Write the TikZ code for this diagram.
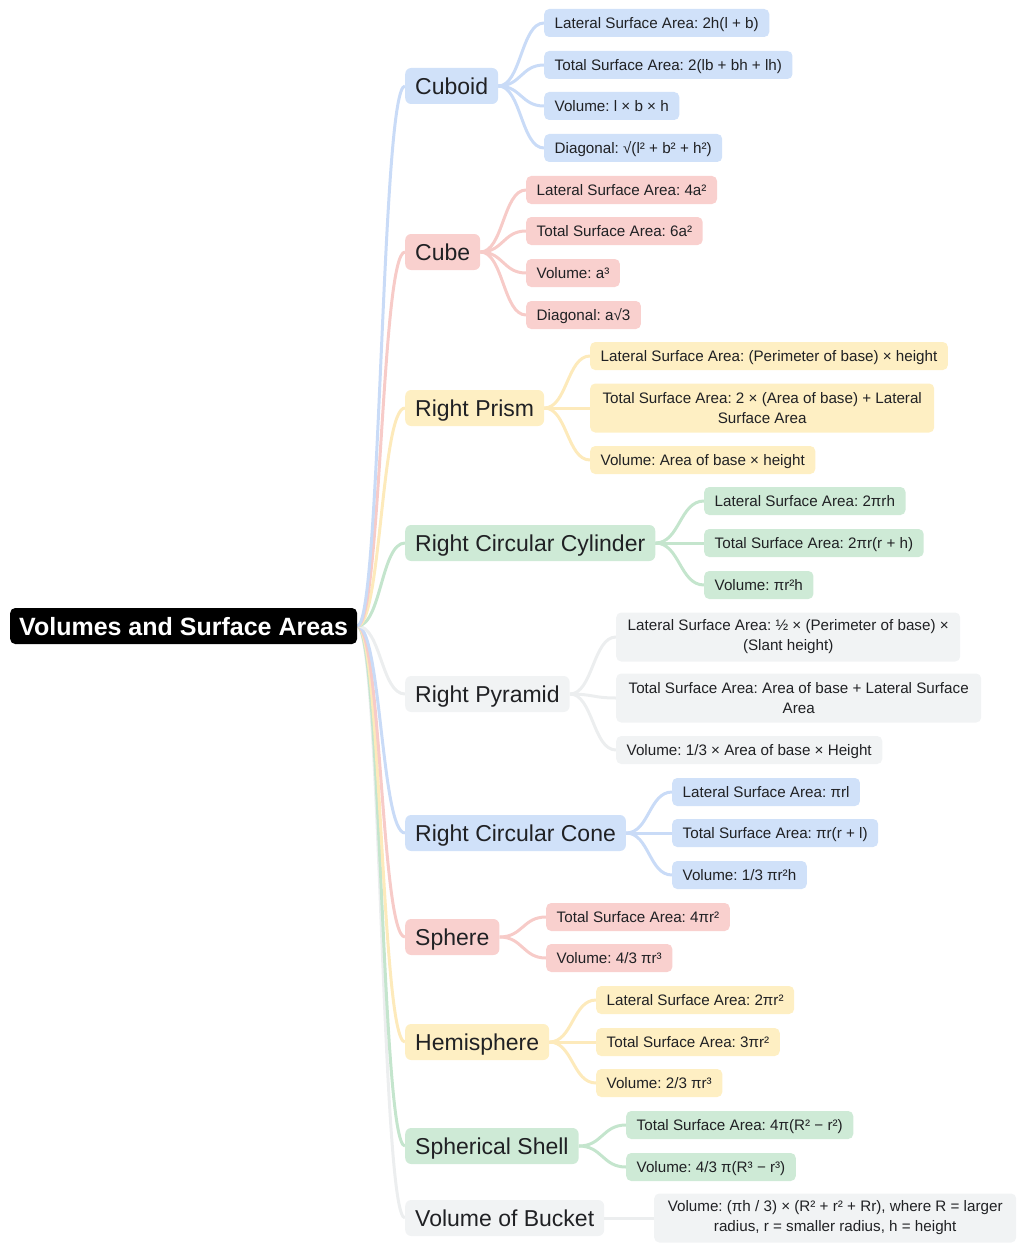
\documentclass[tikz,border=0pt]{standalone}
\usepackage{fontspec}
\setmainfont{Liberation Sans}
\frenchspacing
\usetikzlibrary{calc,backgrounds}
\definecolor{txt}{HTML}{202124}
\definecolor{bF}{HTML}{D0E1F9}\definecolor{bL}{HTML}{C9DBF7}
\definecolor{rF}{HTML}{F9D0CE}\definecolor{rL}{HTML}{F7CBC8}
\definecolor{yF}{HTML}{FEEFC3}\definecolor{yL}{HTML}{FDEABB}
\definecolor{gF}{HTML}{CEEAD6}\definecolor{gL}{HTML}{C4E5CD}
\definecolor{kF}{HTML}{F1F3F4}\definecolor{kL}{HTML}{ECEEEF}
\newcommand\mmlink[3]{\draw[line width=3pt,#1] let \p1=(#2.east),\p2=(#3.west) in (\p1) .. controls ({(\x1+\x2)/2},\y1) and ({(\x1+\x2)/2},\y2) .. (\p2);}
\tikzset{
  rootbox/.style={fill=black,text=white,font=\fontsize{25}{30}\selectfont\bfseries,rounded corners=5pt,minimum height=36pt,inner xsep=9pt,inner ysep=2pt,text height=22pt,text depth=4pt,anchor=west},
  mainbox/.style={rounded corners=6pt,minimum height=36pt,inner xsep=10pt,inner ysep=2pt,text=txt,font=\fontsize{23}{27}\selectfont,text height=20.5pt,text depth=4pt,anchor=west},
  leafbox/.style={rounded corners=5pt,minimum height=28pt,inner xsep=10.5pt,inner ysep=2pt,text=txt,font=\fontsize{15.2}{20}\selectfont,text height=13.8pt,text depth=3pt,anchor=west},
  twoline/.style={minimum height=49pt,align=center,minimum width=#1,text height={},text depth={}}
}
\begin{document}
\begin{tikzpicture}[x=1pt,y=-1pt]
\useasboundingbox (0,0) rectangle (1024,1252);
\node[rootbox] (root) at (10,626) {Volumes and Surface Areas};
% Cuboid
\node[mainbox,fill=bF] (cuboid) at (405,86) {Cuboid};
\node[leafbox,fill=bF] (cu1) at (544,23) {Lateral Surface Area: 2h(l + b)};
\node[leafbox,fill=bF] (cu2) at (544,65) {Total Surface Area: 2(lb + bh + lh)};
\node[leafbox,fill=bF] (cu3) at (544,106) {Volume: l × b × h};
\node[leafbox,fill=bF] (cu4) at (544,148) {Diagonal: √(l² + b² + h²)};
% Cube
\node[mainbox,fill=rF] (cube) at (405,252) {Cube};
\node[leafbox,fill=rF] (cb1) at (526,190) {Lateral Surface Area: 4a²};
\node[leafbox,fill=rF] (cb2) at (526,231) {Total Surface Area: 6a²};
\node[leafbox,fill=rF] (cb3) at (526,273) {Volume: a³};
\node[leafbox,fill=rF] (cb4) at (526,315) {Diagonal: a√3};
% Right Prism
\node[mainbox,fill=yF] (prism) at (405,408) {Right Prism};
\node[leafbox,fill=yF] (pr1) at (590,356) {Lateral Surface Area: (Perimeter of base) × height};
\node[leafbox,fill=yF,twoline=344pt] (pr2) at (590,408) {Total Surface Area: 2 × (Area of base) + Lateral\\Surface Area};
\node[leafbox,fill=yF] (pr3) at (590,460) {Volume: Area of base × height};
% Cylinder
\node[mainbox,fill=gF] (cyl) at (405,543) {Right Circular Cylinder};
\node[leafbox,fill=gF] (cy1) at (704,501) {Lateral Surface Area: 2πrh};
\node[leafbox,fill=gF] (cy2) at (704,543) {Total Surface Area: 2πr(r + h)};
\node[leafbox,fill=gF] (cy3) at (704,585) {Volume: πr²h};
% Pyramid
\node[mainbox,fill=kF] (pyr) at (405,694) {Right Pyramid};
\node[leafbox,fill=kF,twoline=344pt] (py1) at (616,637) {Lateral Surface Area: ½ × (Perimeter of base) ×\\(Slant height)};
\node[leafbox,fill=kF,twoline=365pt] (py2) at (616,698) {Total Surface Area: Area of base + Lateral Surface\\Area};
\node[leafbox,fill=kF] (py3) at (616,750) {Volume: 1/3 × Area of base × Height};
% Cone
\node[mainbox,fill=bF] (cone) at (405,833) {Right Circular Cone};
\node[leafbox,fill=bF] (co1) at (672,792) {Lateral Surface Area: πrl};
\node[leafbox,fill=bF] (co2) at (672,833) {Total Surface Area: πr(r + l)};
\node[leafbox,fill=bF] (co3) at (672,875) {Volume: 1/3 πr²h};
% Sphere
\node[mainbox,fill=rF] (sph) at (405,937) {Sphere};
\node[leafbox,fill=rF] (sp1) at (546,917) {Total Surface Area: 4πr²};
\node[leafbox,fill=rF] (sp2) at (546,958) {Volume: 4/3 πr³};
% Hemisphere
\node[mainbox,fill=yF] (hem) at (405,1042) {Hemisphere};
\node[leafbox,fill=yF] (he1) at (596,1000) {Lateral Surface Area: 2πr²};
\node[leafbox,fill=yF] (he2) at (596,1042) {Total Surface Area: 3πr²};
\node[leafbox,fill=yF] (he3) at (596,1083) {Volume: 2/3 πr³};
% Spherical shell
\node[mainbox,fill=gF] (shell) at (405,1146) {Spherical Shell};
\node[leafbox,fill=gF] (sh1) at (626,1125) {Total Surface Area: 4π(R² − r²)};
\node[leafbox,fill=gF] (sh2) at (626,1167) {Volume: 4/3 π(R³ − r³)};
% Bucket
\node[mainbox,fill=kF] (buck) at (405,1218) {Volume of Bucket};
\node[leafbox,fill=kF,twoline=362pt] (bu1) at (654,1218) {Volume: (πh / 3) × (R² + r² + Rr), where R = larger\\radius, r = smaller radius, h = height};
\begin{pgfonlayer}{background}
\mmlink{kL}{root}{buck}
\mmlink{gL}{root}{shell}
\mmlink{yL}{root}{hem}
\mmlink{rL}{root}{sph}
\mmlink{bL}{root}{cone}
\mmlink{kL}{root}{pyr}
\mmlink{gL}{root}{cyl}
\mmlink{yL}{root}{prism}
\mmlink{rL}{root}{cube}
\mmlink{bL}{root}{cuboid}
\mmlink{bL}{cuboid}{cu1}\mmlink{bL}{cuboid}{cu2}\mmlink{bL}{cuboid}{cu3}\mmlink{bL}{cuboid}{cu4}
\mmlink{rL}{cube}{cb1}\mmlink{rL}{cube}{cb2}\mmlink{rL}{cube}{cb3}\mmlink{rL}{cube}{cb4}
\mmlink{yL}{prism}{pr1}\mmlink{yL}{prism}{pr2}\mmlink{yL}{prism}{pr3}
\mmlink{gL}{cyl}{cy1}\mmlink{gL}{cyl}{cy2}\mmlink{gL}{cyl}{cy3}
\mmlink{kL}{pyr}{py1}\mmlink{kL}{pyr}{py2}\mmlink{kL}{pyr}{py3}
\mmlink{bL}{cone}{co1}\mmlink{bL}{cone}{co2}\mmlink{bL}{cone}{co3}
\mmlink{rL}{sph}{sp1}\mmlink{rL}{sph}{sp2}
\mmlink{yL}{hem}{he1}\mmlink{yL}{hem}{he2}\mmlink{yL}{hem}{he3}
\mmlink{gL}{shell}{sh1}\mmlink{gL}{shell}{sh2}
\mmlink{kL}{buck}{bu1}
\end{pgfonlayer}
\end{tikzpicture}
\end{document}
